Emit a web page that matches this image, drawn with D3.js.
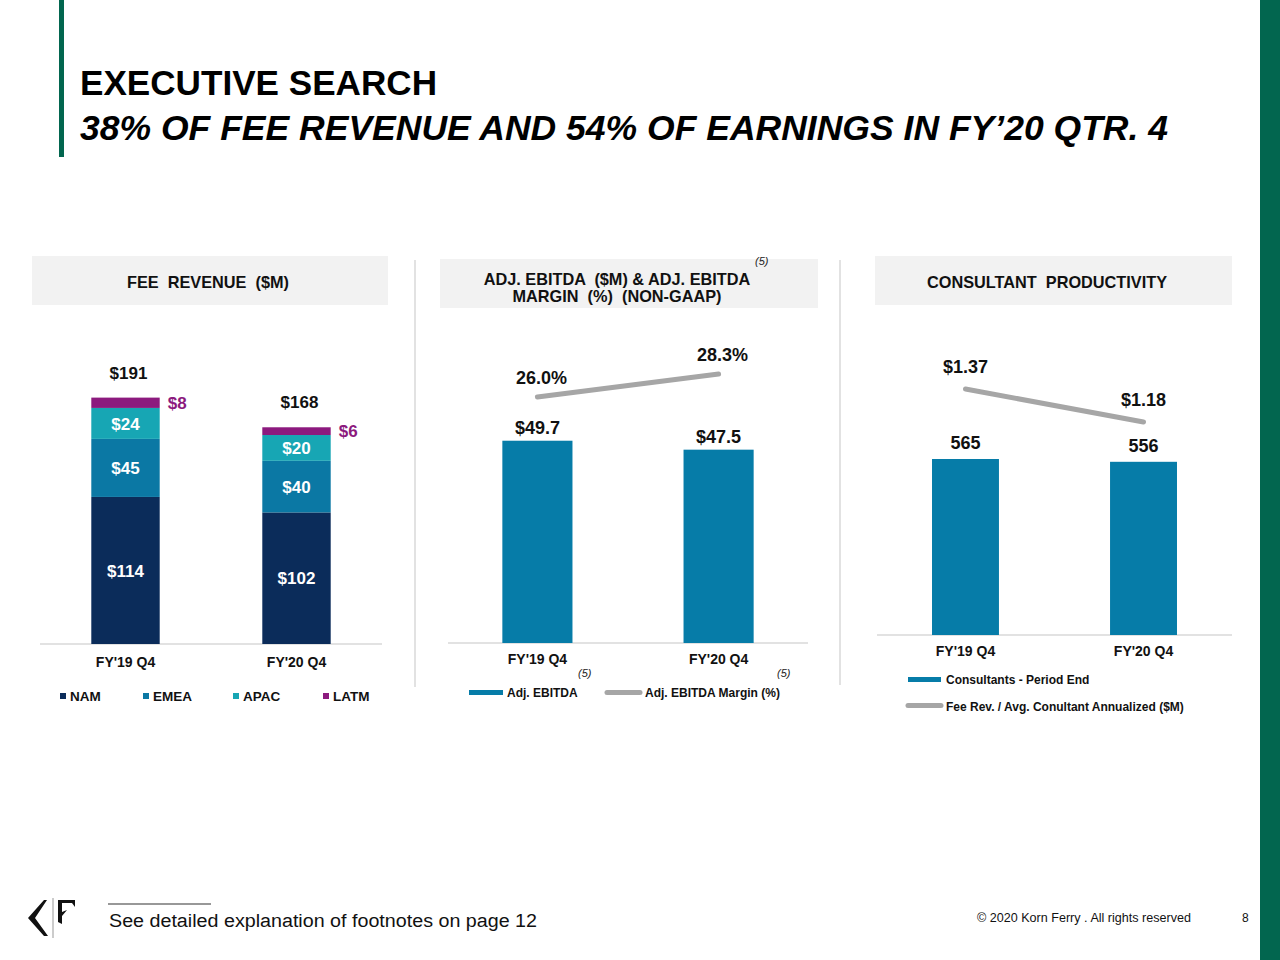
<!DOCTYPE html>
<html>
<head>
<meta charset="utf-8">
<script src="https://cdn.jsdelivr.net/npm/d3@7"></script>
<style>
  html, body { margin: 0; padding: 0; background: #ffffff; }
  svg { display: block; font-family: "Liberation Sans", Arial, sans-serif; }
</style>
</head>
<body>
<svg id="chart" width="1280" height="960"></svg>
<script>
// ---------- DATA ----------
const categories = ["FY'19 Q4", "FY'20 Q4"];
const regions = ["NAM", "EMEA", "APAC", "LATM"];
const namValues = [114, 102];
const emeaValues = [45, 40];
const apacValues = [24, 20];
const latmValues = [8, 6];
const feeTotals = [191, 168];
const ebitdaValues = [49.7, 47.5];
const ebitdaMargins = [26.0, 28.3];
const consultants = [565, 556];
const feePerConsultant = [1.37, 1.18];

const titleText = "EXECUTIVE SEARCH";
const subtitleText = "38% OF FEE REVENUE AND 54% OF EARNINGS IN FY\u201920 QTR. 4";

// ---------- STYLE ----------
const GREEN = "#02664f";
const colors = { NAM: "#0b2c5a", EMEA: "#0b78a4", APAC: "#17a6b4", LATM: "#8c1a7e" };
const BAR = "#067ca8";
const LINE = "#a6a6a6";
const HEADER_BG = "#f2f2f2";

const svg = d3.select("#chart");

// frame decorations
svg.append("rect").attr("x", 59).attr("y", 0).attr("width", 5).attr("height", 157).attr("fill", GREEN);
svg.append("rect").attr("x", 1260).attr("y", 0).attr("width", 20).attr("height", 960).attr("fill", GREEN);

svg.append("text").attr("x", 80).attr("y", 95)
  .attr("font-size", 35).attr("font-weight", "bold").attr("fill", "#000")
  .attr("textLength", 357).attr("lengthAdjust", "spacingAndGlyphs")
  .text(titleText);
svg.append("text").attr("x", 80).attr("y", 140)
  .attr("font-size", 35).attr("font-weight", "bold").attr("font-style", "italic").attr("fill", "#000")
  .attr("textLength", 1088).attr("lengthAdjust", "spacingAndGlyphs")
  .text(subtitleText);

// dividers
svg.append("line").attr("x1", 415).attr("x2", 415).attr("y1", 260).attr("y2", 687).attr("stroke", "#d9d9d9").attr("stroke-width", 1.5);
svg.append("line").attr("x1", 840).attr("x2", 840).attr("y1", 260).attr("y2", 685).attr("stroke", "#d9d9d9").attr("stroke-width", 1.5);

// headers
function header(x, y, w, h, lines, cx, baselines) {
  svg.append("rect").attr("x", x).attr("y", y).attr("width", w).attr("height", h).attr("fill", HEADER_BG);
  lines.forEach((t, i) => {
    svg.append("text").attr("x", cx).attr("y", baselines[i]).attr("text-anchor", "middle")
      .attr("font-size", 16.3).attr("font-weight", "bold").attr("fill", "#111")
      .style("white-space", "pre")
      .text(t);
  });
}
header(32, 256, 356, 49, ["FEE  REVENUE  ($M)"], 208, [288]);
header(440, 259, 378, 49, ["ADJ. EBITDA  ($M) & ADJ. EBITDA", "MARGIN  (%)  (NON-GAAP)"], 617, [285, 302]);
header(875, 256, 357, 49, ["CONSULTANT  PRODUCTIVITY"], 1047, [288]);
svg.append("text").attr("x", 755).attr("y", 265).attr("font-size", 11).attr("font-style", "italic").attr("fill", "#222").text("(5)");

function axisBase(y, x1, x2) {
  svg.append("line").attr("x1", x1).attr("x2", x2).attr("y1", y).attr("y2", y).attr("stroke", "#d9d9d9").attr("stroke-width", 1.5);
}
function xAxis(x, y) {
  const g = svg.append("g").attr("transform", `translate(0,${y})`)
    .call(d3.axisBottom(x).tickSize(0).tickPadding(13));
  g.select(".domain").remove();
  g.selectAll("text").attr("font-size", 14).attr("font-weight", "bold").attr("fill", "#111")
    .attr("font-family", "Liberation Sans, Arial, sans-serif").attr("dy", "0.71em");
  return g;
}

// ---------- PANEL 1 : stacked fee revenue ----------
{
  const x = d3.scaleBand().domain(categories).range([40, 382]).paddingInner(0.6).paddingOuter(0.3);
  const y = d3.scaleLinear().domain([0, 250]).range([644, 644 - 250 * 1.29]);
  const rows = categories.map((c, i) => ({ cat: c, NAM: namValues[i], EMEA: emeaValues[i], APAC: apacValues[i], LATM: latmValues[i] }));
  const stack = d3.stack().keys(regions)(rows);
  axisBase(644, 40, 382);
  stack.forEach(layer => {
    const key = layer.key;
    layer.forEach(d => {
      svg.append("rect").attr("x", x(d.data.cat)).attr("y", y(d[1]))
        .attr("width", x.bandwidth()).attr("height", y(d[0]) - y(d[1])).attr("fill", colors[key]);
      const v = d.data[key];
      const mid = (y(d[0]) + y(d[1])) / 2;
      if (key === "LATM") {
        svg.append("text").attr("x", x(d.data.cat) + x.bandwidth() + 8).attr("y", mid).attr("dy", "0.35em")
          .attr("font-size", 17).attr("font-weight", "bold").attr("fill", colors.LATM).text("$" + v);
      } else {
        svg.append("text").attr("x", x(d.data.cat) + x.bandwidth() / 2).attr("y", mid).attr("dy", "0.36em")
          .attr("text-anchor", "middle").attr("font-size", 17).attr("font-weight", "bold").attr("fill", "#fff").text("$" + v);
      }
    });
  });
  categories.forEach((c, i) => {
    svg.append("text").attr("x", x(c) + x.bandwidth() / 2 + 3).attr("y", y(feeTotals[i]) - 19)
      .attr("text-anchor", "middle").attr("font-size", 17).attr("font-weight", "bold").attr("fill", "#111").text("$" + feeTotals[i]);
  });
  xAxis(x, 644).selectAll("text").attr("dy", "0.71em").attr("y", 13);
  // legend
  const legX = [60, 143, 233, 323];
  regions.forEach((r, i) => {
    svg.append("rect").attr("x", legX[i]).attr("y", 693).attr("width", 6).attr("height", 6).attr("fill", colors[r]);
    svg.append("text").attr("x", legX[i] + 10).attr("y", 701).attr("font-size", 13.5).attr("font-weight", "bold").attr("fill", "#111").text(r);
  });
}

// ---------- PANEL 2 : Adj. EBITDA & margin ----------
{
  const x = d3.scaleBand().domain(categories).range([448, 808]).paddingInner(0.613).paddingOuter(0.3);
  const y = d3.scaleLinear().domain([0, 60]).range([643, 643 - 60 * 4.07]);
  const y2 = d3.scaleLinear().domain([0, 35]).range([657, 307]);
  axisBase(643, 448, 808);
  categories.forEach((c, i) => {
    svg.append("rect").attr("x", x(c)).attr("y", y(ebitdaValues[i])).attr("width", x.bandwidth())
      .attr("height", y(0) - y(ebitdaValues[i])).attr("fill", BAR);
    svg.append("text").attr("x", x(c) + x.bandwidth() / 2).attr("y", y(ebitdaValues[i]) - 7)
      .attr("text-anchor", "middle").attr("font-size", 18).attr("font-weight", "bold").attr("fill", "#111")
      .text("$" + ebitdaValues[i].toFixed(1));
  });
  const line = d3.line().x((d, i) => x(categories[i]) + x.bandwidth() / 2).y(d => y2(d));
  svg.append("path").datum(ebitdaMargins).attr("d", line).attr("fill", "none")
    .attr("stroke", LINE).attr("stroke-width", 5).attr("stroke-linecap", "round");
  ebitdaMargins.forEach((m, i) => {
    svg.append("text").attr("x", x(categories[i]) + x.bandwidth() / 2 + 4).attr("y", y2(m) - 13)
      .attr("text-anchor", "middle").attr("font-size", 18).attr("font-weight", "bold").attr("fill", "#111")
      .text(m.toFixed(1) + "%");
  });
  xAxis(x, 643).selectAll("text").attr("y", 11);
  svg.append("text").attr("x", 578).attr("y", 677).attr("font-size", 11).attr("font-style", "italic").attr("fill", "#222").text("(5)");
  svg.append("text").attr("x", 777).attr("y", 677).attr("font-size", 11).attr("font-style", "italic").attr("fill", "#222").text("(5)");
  svg.append("rect").attr("x", 469).attr("y", 690).attr("width", 34).attr("height", 5).attr("fill", BAR);
  svg.append("text").attr("x", 507).attr("y", 697).attr("font-size", 12).attr("font-weight", "bold").attr("fill", "#111").text("Adj. EBITDA");
  svg.append("line").attr("x1", 607).attr("x2", 640).attr("y1", 692.5).attr("y2", 692.5).attr("stroke", LINE).attr("stroke-width", 5).attr("stroke-linecap", "round");
  svg.append("text").attr("x", 645).attr("y", 697).attr("font-size", 12).attr("font-weight", "bold").attr("fill", "#111").text("Adj. EBITDA Margin (%)");
}

// ---------- PANEL 3 : consultant productivity ----------
{
  const x = d3.scaleBand().domain(categories).range([877, 1232]).paddingInner(0.624).paddingOuter(0.309);
  const y = d3.scaleLinear().domain([0, 800]).range([635, 635 - 800 * 0.3115]);
  const y2 = d3.scaleLinear().domain([0, 2]).range([627, 279.6]);
  axisBase(635, 877, 1232);
  categories.forEach((c, i) => {
    svg.append("rect").attr("x", x(c)).attr("y", y(consultants[i])).attr("width", x.bandwidth())
      .attr("height", y(0) - y(consultants[i])).attr("fill", BAR);
    svg.append("text").attr("x", x(c) + x.bandwidth() / 2).attr("y", y(consultants[i]) - 10)
      .attr("text-anchor", "middle").attr("font-size", 18).attr("font-weight", "bold").attr("fill", "#111")
      .text(consultants[i]);
  });
  const line = d3.line().x((d, i) => x(categories[i]) + x.bandwidth() / 2).y(d => y2(d));
  svg.append("path").datum(feePerConsultant).attr("d", line).attr("fill", "none")
    .attr("stroke", LINE).attr("stroke-width", 5).attr("stroke-linecap", "round");
  feePerConsultant.forEach((m, i) => {
    svg.append("text").attr("x", x(categories[i]) + x.bandwidth() / 2).attr("y", y2(m) - 16)
      .attr("text-anchor", "middle").attr("font-size", 18).attr("font-weight", "bold").attr("fill", "#111")
      .text("$" + m.toFixed(2));
  });
  xAxis(x, 635).selectAll("text").attr("y", 11);
  svg.append("rect").attr("x", 908).attr("y", 677).attr("width", 33).attr("height", 5).attr("fill", BAR);
  svg.append("text").attr("x", 946).attr("y", 684).attr("font-size", 12).attr("font-weight", "bold").attr("fill", "#111").text("Consultants - Period End");
  svg.append("line").attr("x1", 908).attr("x2", 941).attr("y1", 705.5).attr("y2", 705.5).attr("stroke", LINE).attr("stroke-width", 5).attr("stroke-linecap", "round");
  svg.append("text").attr("x", 946).attr("y", 711).attr("font-size", 12).attr("font-weight", "bold").attr("fill", "#111").text("Fee Rev. / Avg. Conultant Annualized ($M)");
}

// ---------- FOOTER ----------
// logo
svg.append("path").attr("d", "M44,900 L28,918 L44,936 L48,936 L35,918 L47,900 Z").attr("fill", "#111");
svg.append("line").attr("x1", 53).attr("x2", 53).attr("y1", 898).attr("y2", 938).attr("stroke", "#999").attr("stroke-width", 1);
svg.append("path").attr("d", "M58,900 L75,900 L75,907 L72,903 L62,903 L62,912 L67,910 L62,916 L62,924 L58,922 Z").attr("fill", "#111");
svg.append("line").attr("x1", 108).attr("x2", 211).attr("y1", 904).attr("y2", 904).attr("stroke", "#333").attr("stroke-width", 1.2);
svg.append("text").attr("x", 109).attr("y", 927).attr("font-size", 18).attr("fill", "#111")
  .attr("textLength", 428).attr("lengthAdjust", "spacingAndGlyphs")
  .text("See detailed explanation of footnotes on page 12");
svg.append("text").attr("x", 977).attr("y", 922).attr("font-size", 12).attr("fill", "#111")
  .attr("textLength", 214).attr("lengthAdjust", "spacingAndGlyphs")
  .text("\u00A9 2020 Korn Ferry . All rights reserved");
svg.append("text").attr("x", 1242).attr("y", 922).attr("font-size", 12).attr("fill", "#111").text("8");
</script>
</body>
</html>
